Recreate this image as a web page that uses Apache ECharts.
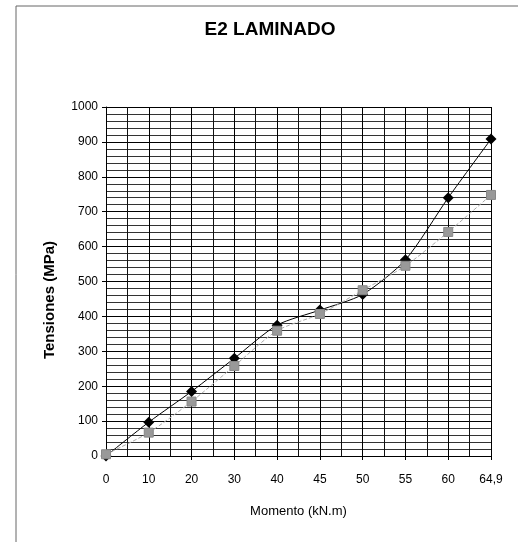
<!DOCTYPE html>
<html>
<head>
<meta charset="utf-8">
<script src="https://cdn.jsdelivr.net/npm/echarts@6/dist/echarts.min.js"></script>
<style>
html,body{margin:0;padding:0;background:#fff;}
#chart{width:518px;height:542px;}
</style>
</head>
<body>
<div id="chart"></div>
<script>
var titleText = 'E2 LAMINADO';
var xAxisName = 'Momento (kN.m)';
var yAxisName = 'Tensiones (MPa)';
var categories = ['0', '10', '20', '30', '40', '45', '50', '55', '60', '64,9'];
var seriesA = [0, 97, 185, 280, 375, 418, 463, 562, 740, 908];
var seriesB = [5, 67, 156, 258, 359, 407, 475, 545, 642, 748];
var yTicks = [0, 100, 200, 300, 400, 500, 600, 700, 800, 900, 1000];

function toPoints(arr) {
  return arr.map(function (v, i) { return [i, v]; });
}

var chart = echarts.init(document.getElementById('chart'), null, {renderer: 'canvas'});
var font = 'Liberation Sans, Arial, sans-serif';
chart.setOption({
  animation: false,
  backgroundColor: '#fff',
  title: {
    text: titleText,
    left: 265, top: 15, textAlign: 'center',
    textStyle: {fontFamily: font, fontSize: 19, fontWeight: 'bold', color: '#000'}
  },
  graphic: [{
    type: 'rect', shape: {x: 16, y: 6, width: 540, height: 580},
    style: {fill: 'none', stroke: '#666', lineWidth: 1}, silent: true
  }, {
    type: 'text', x: 50, y: 300, rotation: Math.PI / 2,
    style: {
      text: yAxisName, fontFamily: font, fontSize: 15, fontWeight: 'bold',
      fill: '#000', align: 'center', verticalAlign: 'middle'
    },
    silent: true
  }],
  grid: {left: 106, right: 27, top: 107, bottom: 86},
  xAxis: {
    type: 'value', min: 0, max: categories.length - 1, interval: 1,
    name: xAxisName, nameLocation: 'middle', nameGap: 49,
    nameTextStyle: {fontFamily: font, fontSize: 13, color: '#000'},
    axisLine: {lineStyle: {color: '#000', width: 1}},
    axisTick: {show: true, length: 4, inside: false, lineStyle: {color: '#000'}},
    axisLabel: {
      fontFamily: font, fontSize: 12, color: '#000', margin: 18,
      formatter: function (v) { return categories[Math.round(v)]; }
    },
    splitLine: {show: true, lineStyle: {color: '#000', width: 1}},
    minorTick: {show: false, splitNumber: 2},
    minorSplitLine: {show: true, lineStyle: {color: '#111', width: 1}}
  },
  yAxis: {
    type: 'value', min: 0, max: 1000, interval: 100,
    axisLine: {show: true, lineStyle: {color: '#000', width: 1}},
    axisTick: {show: true, length: 4, lineStyle: {color: '#000'}},
    axisLabel: {
      fontFamily: font, fontSize: 12, color: '#000', margin: 8,
      formatter: function (v) { return yTicks.indexOf(v) >= 0 ? String(v) : ''; }
    },
    splitLine: {show: true, lineStyle: {color: '#000', width: 1}},
    minorTick: {show: false, splitNumber: 5},
    minorSplitLine: {show: true, lineStyle: {color: '#333', width: 1}}
  },
  series: [
    {
      type: 'line', data: toPoints(seriesB), smooth: 0.25,
      symbol: 'rect', symbolSize: 9,
      lineStyle: {color: '#aaa', width: 1, type: 'dashed'},
      itemStyle: {color: '#999', borderColor: '#888', borderWidth: 1},
      z: 3
    },
    {
      type: 'line', data: toPoints(seriesA), smooth: 0.25,
      symbol: 'diamond', symbolSize: 11,
      lineStyle: {color: '#000', width: 1},
      itemStyle: {color: '#000'},
      z: 2
    }
  ]
});
</script>
</body>
</html>
